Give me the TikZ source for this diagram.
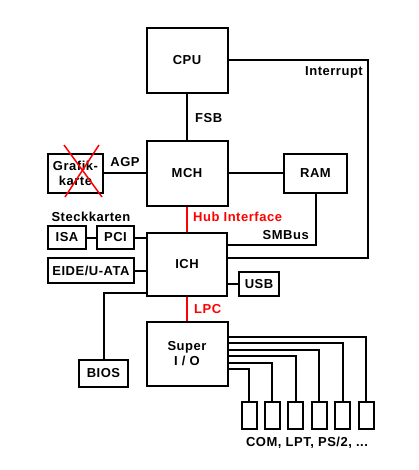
\documentclass[tikz,border=0pt]{standalone}
\usepackage{fontspec}
\setmainfont{Liberation Sans}[LetterSpace=4]
\usepackage{xcolor}
\usepackage{tikz}
\usetikzlibrary{calc}
\definecolor{busRed}{HTML}{FF0000}

\begin{document}
\begin{tikzpicture}[x=1pt,y=-1pt,
    font=\bfseries\fontsize{13}{15}\selectfont,
    box/.style={draw,line width=2pt,align=center,inner sep=0pt,fill=white},
    link/.style={line width=2pt},
    redlink/.style={line width=2pt,draw=busRed},
    lbl/.style={inner sep=0pt},
    redlbl/.style={inner sep=0pt,text=busRed}]
    \useasboundingbox (0,0) rectangle (418,470);
    % chipset
    \node[box,minimum width=81pt,minimum height=65pt] (cpu) at (187,60.5) {CPU};
    \node[box,minimum width=81pt,minimum height=65pt] (mch) at (187,173.5) {MCH};
    \node[box,minimum width=80pt,minimum height=63pt] (ich) at (187,264.5) {ICH};
    \node[box,minimum width=81pt,minimum height=64pt] (sio) at (187,354) {Super\\I / O};
    \node[box,minimum width=63pt,minimum height=39pt] (ram) at (315.5,173.5) {RAM};
    \node[box,minimum width=40pt,minimum height=24pt] (usb) at (259,284) {USB};
    % left side
    \node[box,minimum width=55pt,minimum height=39pt] (grafik) at (75.5,173.5) {Grafik-\\karte};
    \node[box,minimum width=38pt,minimum height=23pt] (isa) at (67,237.5) {ISA};
    \node[box,minimum width=37pt,minimum height=23pt] (pci) at (115.5,237.5) {PCI};
    \node[box,minimum width=86pt,minimum height=25pt] (eide) at (91,270.5) {EIDE/U-ATA};
    \node[box,minimum width=49pt,minimum height=27pt] (bios) at (103.5,373.5) {BIOS};
    % ports
    \foreach \i in {1,...,6}
      \node[box,minimum width=15pt,minimum height=27pt] (port\i) at ({249+(\i-1)*23.4},415.5) {};
    % labels
    \node[lbl,anchor=west] (fsb) at (195,118) {FSB};
    \node[lbl,anchor=east] (intlbl) at (363,72) {Interrupt};
    \node[lbl] (agp) at (125,162) {AGP};
    \node[lbl] (steck) at (91,217) {Steckkarten};
    \node[redlbl,anchor=west] (hub) at (193,217) {Hub Interface};
    \node[lbl,anchor=east] (smbus) at (309,235) {SMBus};
    \node[redlbl,anchor=west] (lpc) at (194,309) {LPC};
    \node[lbl] (ports) at (307,443) {COM, LPT, PS/2, ...};
    % connectors
    \coordinate (intr) at (368,258);
    \coordinate (smb) at (315.5,245);
    \draw[link] (cpu.south)--(mch.north);
    \draw[link] (cpu.east) -| (intr) -- (ich.east |- intr);
    \draw[link] (mch.east)--(ram.west);
    \draw[link] (ram.south) -- (smb) -- (ich.east |- smb);
    \draw[link] (usb.west)--(usb.west -| ich.east);
    \draw[link] (grafik.east)--(mch.west);
    \draw[link] (isa.east)--(pci.west);
    \draw[link] (pci.east)--(pci.east -| ich.west);
    \draw[link] (eide.east)--(eide.east -| ich.west);
    \draw[link] (bios.north) |- ($(ich.south west)+(0,-4)$);
    \draw[redlink] (mch.south)--(ich.north);
    \draw[redlink] (ich.south)--(sio.north);
    \foreach \i/\y in {1/369,2/362.5,3/356,4/349.5,5/343,6/336.5}
      \draw[link] (sio.east |- {(0,\y)}) -| (port\i.north);
    % removed card
    \draw[line width=1.5pt,busRed] (64,145)--(102,197);
    \draw[line width=1.5pt,busRed] (99,145)--(65,197);
  \end{tikzpicture}
\end{document}
